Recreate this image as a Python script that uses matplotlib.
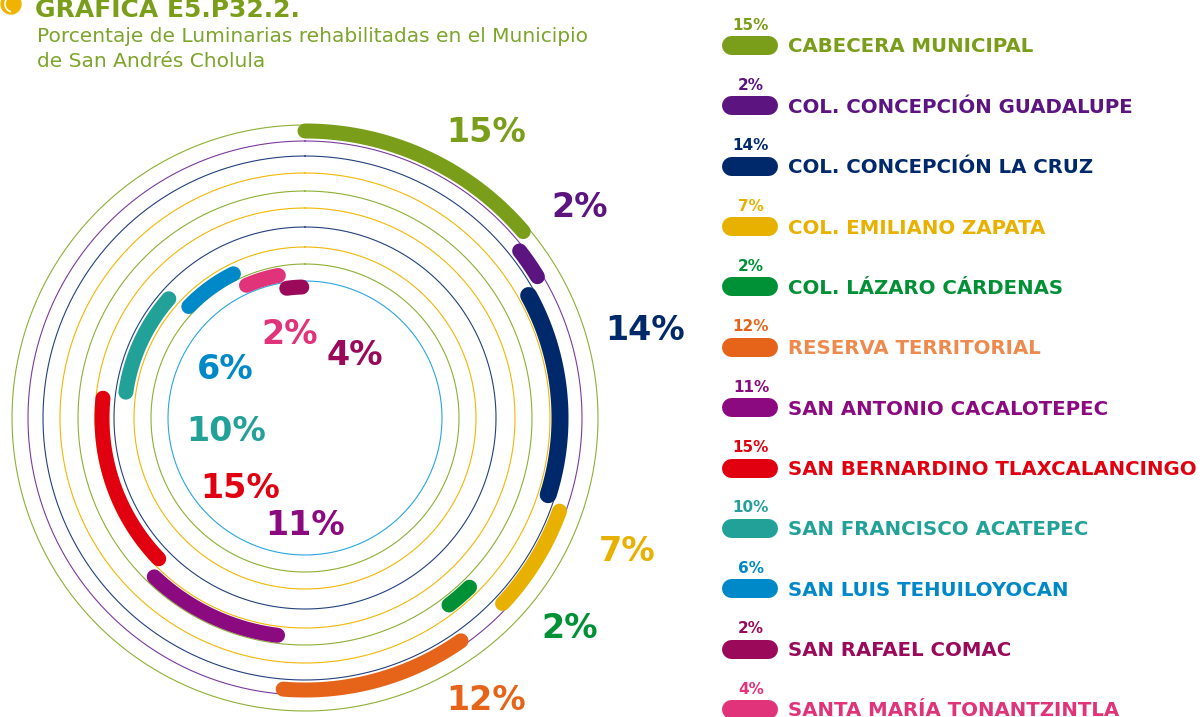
import numpy as np
import matplotlib.pyplot as plt
from matplotlib.patches import Circle

plt.rcParams['font.family'] = ['DejaVu Sans']

# datos
categories = ['CABECERA MUNICIPAL', 'COL. CONCEPCIÓN GUADALUPE', 'COL. CONCEPCIÓN LA CRUZ',
              'COL. EMILIANO ZAPATA', 'COL. LÁZARO CÁRDENAS', 'RESERVA TERRITORIAL',
              'SAN ANTONIO CACALOTEPEC', 'SAN BERNARDINO TLAXCALANCINGO',
              'SAN FRANCISCO ACATEPEC', 'SAN LUIS TEHUILOYOCAN', 'SAN RAFAEL COMAC',
              'SANTA MARÍA TONANTZINTLA']
values = [15, 2, 14, 7, 2, 12, 11, 15, 10, 6, 2, 4]
colors = ['#7A9E1A', '#5C1480', '#00296B', '#E8B100', '#009036', '#E6641A',
          '#8C0A80', '#E0000F', '#22A199', '#0089C9', '#9B0A5A', '#E0337A']
text_colors = colors[:5] + ['#EE8A4E'] + colors[6:]
# orden de los arcos alrededor del circulo (el rosa va antes que el guinda)
ring_order = [0, 1, 2, 3, 4, 5, 6, 7, 8, 9, 11, 10]

title = 'GRÁFICA E5.P32.2.'
subtitle = ['Porcentaje de Luminarias rehabilitadas en el Municipio',
            'de San Andrés Cholula']

# layout (pixeles)
W, H = 1203, 717
CX, CY = 305, 418
ring_radii = [293, 277, 262, 245, 227, 210, 191, 171, 154, 137]
ring_colors = ['#8DB035', '#7A3BA0', '#24407F', '#F2B705', '#8DB035',
               '#F2B705', '#24407F', '#F2B705', '#8DB035', '#2BA6DE']
arc_radii = [287, 272, 255, 271, 236, 272, 219, 203, 181, 161, 145, 131]
label_polar = [(32, 341), (52, 348), (75, 352), (112, 347), (128, 336), (147, 333),
               (180, 104), (224, 93), (263, 79), (303, 95), (350, 88), (37, 83)]
deg_per_pct = 3.3
gap = 2.6
PT = 0.72  # px -> pt


def px(x, y):
    return x - CX, CY - y


fig = plt.figure(figsize=(W / 100, H / 100), dpi=100)
ax = fig.add_axes([0, 0, 1, 1])
ax.set_xlim(-CX, W - CX)
ax.set_ylim(CY - H, CY)
ax.axis('off')

# anillos delgados
t = np.linspace(0, 2 * np.pi, 400)
for r, c in zip(ring_radii, ring_colors):
    ax.plot(r * np.sin(t), r * np.cos(t), color=c, lw=0.8, zorder=1)

# arcos gruesos
cum = 0
for slot, idx in enumerate(ring_order):
    v = values[idx]
    t0 = cum * deg_per_pct + slot * gap
    t1 = t0 + v * deg_per_pct
    cum += v
    th = np.radians(np.linspace(t0, t1, 100))
    r = arc_radii[slot]
    lw = 17 if idx == 2 else 15
    ax.plot(r * np.sin(th), r * np.cos(th), color=colors[idx], lw=lw * PT,
            solid_capstyle='round', zorder=3)
    a, rl = label_polar[slot]
    lx, ly = rl * np.sin(np.radians(a)), rl * np.cos(np.radians(a))
    ax.text(lx, ly - 13, f'{values[slot]}%', color=colors[idx], fontsize=24,
            fontweight='bold', ha='center', va='baseline', zorder=4)

# leyenda
rows = np.linspace(45, 709, len(categories))
for i, (cat, v) in enumerate(zip(categories, values)):
    y = rows[i]
    x0, yy = px(731, y)
    x1, _ = px(768, y)
    ax.plot([x0, x1], [yy, yy], color=colors[i], lw=19 * PT, solid_capstyle='round')
    ax.text(*px(751, y - 15.5), f'{v}%', color=colors[i], fontsize=11,
            fontweight='bold', ha='center', va='baseline')
    ax.text(*px(788, y + 7.5), cat, color=text_colors[i], fontsize=14.2,
            fontweight='bold', ha='left', va='baseline')

# titulo
ax.add_patch(Circle(px(11, 4), 10, color='#F0B400', zorder=2))
th = np.radians(np.linspace(200, 300, 40))
ax.plot(px(13, 4)[0] + 8 * np.sin(th), px(13, 4)[1] + 8 * np.cos(th), color='white', lw=1.2, zorder=3)
ax.text(*px(35, 17), title, color='#7A9E1A', fontsize=18, fontweight='bold',
        ha='left', va='baseline')
ax.text(*px(37, 42), subtitle[0], color='#7CA52A', fontsize=14.5, ha='left', va='baseline')
ax.text(*px(37, 67), subtitle[1], color='#7CA52A', fontsize=14.5, ha='left', va='baseline')

fig.savefig('out.png', dpi=100)
